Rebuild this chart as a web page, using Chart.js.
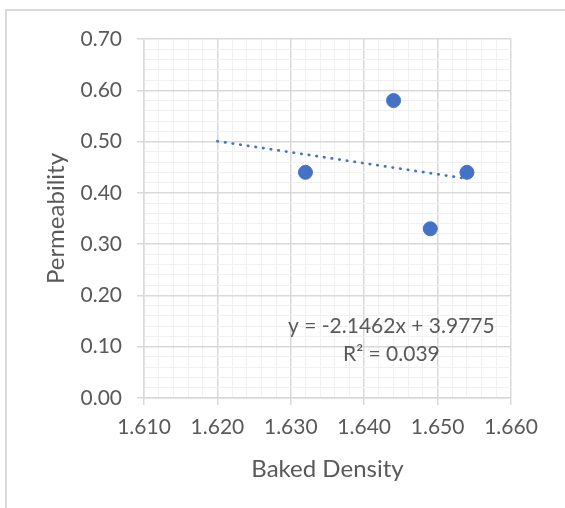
<!DOCTYPE html>
<html>
<head>
<meta charset="utf-8">
<script src="https://cdn.jsdelivr.net/npm/chart.js@4.4.1/dist/chart.umd.min.js"></script>
<style>
  html, body { margin: 0; padding: 0; background: #fff; }
  #wrap { position: relative; width: 565px; height: 508px; overflow: hidden; }
  #frame { position: absolute; left: 5px; top: 9px; width: 600px; height: 600px;
           border-left: 2px solid #d9d9d9; border-top: 2px solid #d9d9d9; }
  canvas { position: absolute; left: 0; top: 0; }
</style>
</head>
<body>
<div id="wrap">
  <div id="frame"></div>
  <canvas id="scatterChart" width="565" height="508"></canvas>
</div>
<script>
// Baked density vs permeability samples
var bakedDensity = [1.632, 1.644, 1.649, 1.654];
var permeability = [0.44, 0.58, 0.33, 0.44];

// Linear trendline as reported on the chart
var trendSlope = -2.1462;
var trendIntercept = 3.9775;
var trendR2 = 0.039;
var trendFrom = 1.620;

var xMin = 1.610, xMax = 1.660, xMajor = 0.01, xMinor = 0.002;
var yMin = 0, yMax = 0.70, yMajor = 0.10, yMinor = 0.02;

var textColor = '#595959';
var blue = '#4472C4';

var points = bakedDensity.map(function (x, i) { return { x: x, y: permeability[i] }; });
var trendTo = Math.max.apply(null, bakedDensity);
var trendPoints = [trendFrom, trendTo].map(function (x) {
  return { x: x, y: trendSlope * x + trendIntercept };
});

function isMajor(v, step) {
  var r = v / step;
  return Math.abs(r - Math.round(r)) < 1e-6;
}

function gridOpts(step) {
  return {
    color: function (c) { return isMajor(c.tick.value, step) ? '#d9d9d9' : '#f0f0f0'; },
    lineWidth: function (c) { return isMajor(c.tick.value, step) ? 1.5 : 1; },
    tickColor: function (c) { return isMajor(c.tick.value, step) ? '#d9d9d9' : 'rgba(0,0,0,0)'; },
    tickLength: 7
  };
}

// equation + R² text box
var trendLabel = {
  id: 'trendLabel',
  afterDatasetsDraw: function (chart) {
    var ctx = chart.ctx, a = chart.chartArea;
    var cx = a.left + (a.right - a.left) * 0.674;
    var cy = a.top + (a.bottom - a.top) * 0.80;
    ctx.save();
    ctx.fillStyle = textColor;
    ctx.font = '21px Lato';
    ctx.textAlign = 'center';
    ctx.textBaseline = 'middle';
    var sign = trendIntercept < 0 ? ' - ' : ' + ';
    ctx.fillText('y = ' + trendSlope.toFixed(4) + 'x' + sign + Math.abs(trendIntercept).toFixed(4), cx, cy);
    ctx.fillText('R\u00B2 = ' + trendR2.toFixed(3), cx, cy + 28);
    ctx.restore();
  }
};

new Chart(document.getElementById('scatterChart'), {
  type: 'scatter',
  data: {
    datasets: [
      {
        label: 'Permeability',
        data: points,
        backgroundColor: blue,
        borderColor: blue,
        pointRadius: 7,
        pointBorderWidth: 1
      },
      {
        label: 'Linear trend',
        data: trendPoints,
        showLine: true,
        pointRadius: 0,
        borderColor: blue,
        borderWidth: 2.7,
        borderDash: [0.5, 7.2],
        borderCapStyle: 'round'
      }
    ]
  },
  plugins: [trendLabel],
  options: {
    responsive: false,
    animation: false,
    layout: { padding: { top: 39, right: 54, left: 0, bottom: 0 } },
    plugins: {
      legend: { display: false },
      tooltip: { enabled: false }
    },
    scales: {
      x: {
        type: 'linear',
        min: xMin,
        max: xMax,
        afterFit: function (s) { s.height = 110; },
        grid: gridOpts(xMajor),
        border: { color: '#d9d9d9', width: 1.5 },
        ticks: {
          stepSize: xMinor,
          autoSkip: false,
          maxRotation: 0,
          padding: 10,
          color: textColor,
          font: { family: 'Lato', size: 21 },
          callback: function (v) { return isMajor(v, xMajor) ? v.toFixed(3) : ''; }
        },
        title: {
          display: true,
          text: 'Baked Density',
          color: textColor,
          font: { family: 'Lato', size: 24 },
          padding: { top: 0, bottom: 24 }
        }
      },
      y: {
        type: 'linear',
        min: yMin,
        max: yMax,
        afterFit: function (s) { s.width = 144; },
        grid: gridOpts(yMajor),
        border: { color: '#d9d9d9', width: 1.5 },
        ticks: {
          stepSize: yMinor,
          autoSkip: false,
          padding: 15,
          color: textColor,
          font: { family: 'Lato', size: 21 },
          callback: function (v) { return isMajor(v, yMajor) ? v.toFixed(2) : ''; }
        },
        title: {
          display: true,
          text: 'Permeability',
          color: textColor,
          font: { family: 'Lato', size: 24 },
          padding: { top: 42, bottom: 0 }
        }
      }
    }
  }
});
</script>
</body>
</html>
